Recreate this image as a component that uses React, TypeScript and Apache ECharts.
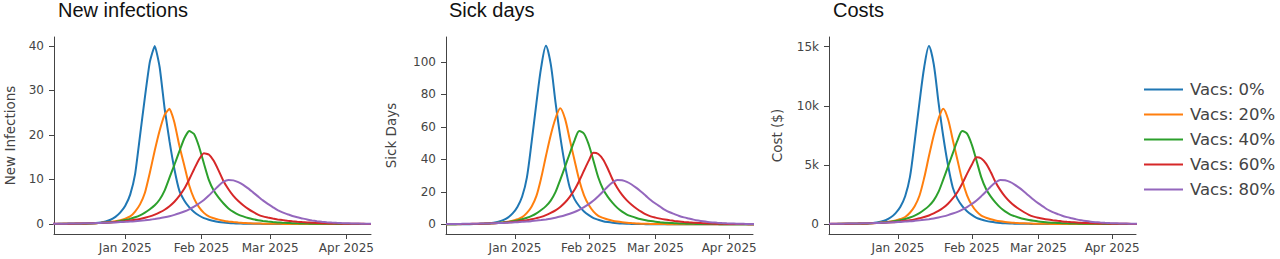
import { useEffect, useRef } from 'react';
import * as echarts from 'echarts';

// ---------------- data ----------------
const SERIES_NAMES = ['Vacs: 0%', 'Vacs: 20%', 'Vacs: 40%', 'Vacs: 60%', 'Vacs: 80%'];
const PANEL_TITLES = ['New infections', 'Sick days', 'Costs'];
const Y_AXIS_TITLES = ['New Infections', 'Sick Days', 'Cost ($)'];
const X_TICK_DATES = ['2025-01-01', '2025-02-01', '2025-03-01', '2025-04-01'];
const X_RANGE = ['2024-12-03', '2025-04-11'];
const Y_TICKS_INFECTIONS = [0, 10, 20, 30, 40];
const Y_TICKS_SICK = [0, 20, 40, 60, 80, 100];
const Y_TICKS_COST = [0, 5000, 10000, 15000];

// samples every 2 days
const INFECTIONS_START = '2024-12-02';
const SICK_COST_START = '2024-12-03';
const STEP_DAYS = 2;

const infections0 = [0.01, 0.01, 0.02, 0.02, 0.03, 0.03, 0.05, 0.08, 0.13, 0.21, 0.35, 0.58, 0.95, 1.6, 2.6, 4.1, 6.6, 11.2, 19.8, 28.5, 36.4, 40.0, 35.2, 26.0, 18.6, 12.3, 7.5, 5.3, 3.8, 2.7, 1.9, 1.3, 0.95, 0.66, 0.46, 0.32, 0.22, 0.15, 0.1, 0.07, 0.05, 0.04, 0.03, 0.02, 0.02, 0.01, 0.01, 0.01, 0.01, 0.01, 0.01, 0, 0, 0, 0, 0, 0, 0, 0, 0, 0, 0, 0, 0, 0, 0];
const infections20 = [0.01, 0.01, 0.02, 0.03, 0.04, 0.05, 0.07, 0.09, 0.13, 0.18, 0.25, 0.33, 0.45, 0.6, 0.85, 1.2, 1.7, 2.8, 4.4, 7.0, 11.5, 16.5, 21.0, 24.5, 25.9, 22.8, 17.6, 13.2, 8.7, 5.7, 3.8, 2.5, 1.7, 1.3, 0.98, 0.74, 0.56, 0.42, 0.32, 0.24, 0.18, 0.13, 0.1, 0.08, 0.06, 0.04, 0.03, 0.02, 0.02, 0.01, 0.01, 0, 0, 0, 0, 0, 0, 0, 0, 0, 0, 0, 0, 0, 0, 0];
const infections40 = [0.02, 0.02, 0.03, 0.04, 0.05, 0.06, 0.08, 0.1, 0.14, 0.18, 0.24, 0.31, 0.4, 0.53, 0.68, 0.9, 1.15, 1.5, 1.95, 2.55, 3.3, 4.2, 5.5, 7.5, 10.4, 13.3, 16.3, 19.2, 20.9, 20.2, 17.4, 13.6, 9.9, 7.5, 5.9, 4.6, 3.5, 2.7, 2.1, 1.7, 1.35, 1.08, 0.86, 0.69, 0.55, 0.44, 0.35, 0.28, 0.22, 0.18, 0.14, 0.11, 0.09, 0.07, 0.06, 0.05, 0.04, 0.03, 0.02, 0.02, 0.01, 0.01, 0.01, 0.01, 0.01, 0];
const infections60 = [0.03, 0.04, 0.05, 0.06, 0.07, 0.085, 0.1, 0.13, 0.15, 0.19, 0.23, 0.28, 0.35, 0.43, 0.52, 0.64, 0.78, 0.93, 1.13, 1.4, 1.7, 2.1, 2.6, 3.2, 4.0, 5.0, 6.3, 7.9, 10.0, 12.3, 14.5, 15.9, 15.6, 14.2, 12.0, 9.6, 7.8, 6.3, 5.15, 4.2, 3.4, 2.7, 2.1, 1.7, 1.44, 1.22, 1.03, 0.87, 0.73, 0.6, 0.5, 0.42, 0.35, 0.28, 0.23, 0.19, 0.15, 0.12, 0.1, 0.08, 0.06, 0.05, 0.04, 0.03, 0.02, 0.02];
const infections80 = [0.05, 0.06, 0.07, 0.08, 0.1, 0.11, 0.13, 0.15, 0.17, 0.2, 0.23, 0.27, 0.31, 0.36, 0.42, 0.48, 0.55, 0.62, 0.72, 0.83, 0.96, 1.11, 1.28, 1.5, 1.75, 2.05, 2.4, 2.8, 3.3, 3.9, 4.6, 5.4, 6.4, 7.5, 8.6, 9.5, 9.9, 9.8, 9.4, 8.8, 8.0, 7.1, 6.2, 5.3, 4.5, 3.8, 3.1, 2.6, 2.2, 1.8, 1.5, 1.25, 1.0, 0.8, 0.63, 0.5, 0.4, 0.32, 0.25, 0.2, 0.16, 0.12, 0.1, 0.08, 0.06, 0.05];

const sick0 = [0.03, 0.03, 0.05, 0.06, 0.08, 0.08, 0.13, 0.21, 0.34, 0.54, 0.9, 1.5, 2.5, 4.1, 6.7, 10.7, 17.1, 28.9, 50.9, 74.8, 96.8, 110.0, 98.8, 75.3, 54.2, 36.4, 22.6, 15.5, 11.1, 7.9, 5.6, 3.8, 2.8, 1.9, 1.35, 0.94, 0.65, 0.44, 0.3, 0.2, 0.15, 0.11, 0.08, 0.06, 0.05, 0.03, 0.03, 0.02, 0.02, 0.02, 0.02, 0.01, 0.01, 0.01, 0.01, 0.01, 0.01, 0.01, 0.01, 0.01, 0.01, 0.01, 0.01, 0.01, 0.01, 0.01];
const sick20 = [0.03, 0.03, 0.05, 0.08, 0.1, 0.13, 0.18, 0.23, 0.33, 0.46, 0.64, 0.86, 1.16, 1.55, 2.17, 3.07, 4.35, 6.97, 11.0, 17.5, 28.6, 42.1, 54.9, 65.2, 71.5, 65.1, 52.2, 39.5, 27.1, 17.8, 11.8, 7.8, 5.2, 3.9, 2.9, 2.2, 1.67, 1.26, 0.95, 0.72, 0.54, 0.39, 0.3, 0.23, 0.18, 0.12, 0.09, 0.06, 0.055, 0.035, 0.03, 0.03, 0.02, 0.02, 0.02, 0.01, 0.01, 0.01, 0.01, 0.01, 0.01, 0.01, 0.01, 0.01, 0.01, 0.01];
const sick40 = [0.055, 0.055, 0.08, 0.11, 0.13, 0.16, 0.21, 0.27, 0.37, 0.48, 0.64, 0.82, 1.06, 1.4, 1.81, 2.38, 3.06, 3.98, 5.18, 6.77, 8.77, 11.2, 14.6, 19.8, 27.4, 35.4, 43.6, 51.6, 57.5, 55.8, 49.0, 39.0, 28.8, 21.6, 16.9, 13.2, 10.1, 7.76, 6.0, 4.84, 3.86, 3.08, 2.46, 1.97, 1.57, 1.26, 1.0, 0.8, 0.63, 0.51, 0.4, 0.31, 0.26, 0.2, 0.17, 0.14, 0.11, 0.09, 0.06, 0.055, 0.03, 0.03, 0.03, 0.03, 0.03, 0.01];
const sick60 = [0.08, 0.11, 0.13, 0.16, 0.19, 0.23, 0.27, 0.35, 0.41, 0.51, 0.62, 0.75, 0.94, 1.16, 1.4, 1.72, 2.1, 2.51, 3.05, 3.77, 4.58, 5.65, 7.0, 8.6, 10.7, 13.4, 16.9, 21.2, 26.8, 33.1, 39.2, 44.1, 43.3, 39.9, 34.2, 27.6, 22.4, 18.1, 14.7, 12.0, 9.75, 7.77, 6.07, 4.88, 4.1, 3.47, 2.93, 2.48, 2.08, 1.72, 1.43, 1.2, 1.0, 0.8, 0.66, 0.54, 0.43, 0.34, 0.29, 0.23, 0.17, 0.14, 0.11, 0.09, 0.06, 0.055];
const sick80 = [0.14, 0.16, 0.19, 0.22, 0.27, 0.3, 0.35, 0.41, 0.46, 0.54, 0.62, 0.73, 0.84, 0.97, 1.13, 1.3, 1.49, 1.68, 1.95, 2.25, 2.6, 3.0, 3.46, 4.05, 4.73, 5.53, 6.48, 7.56, 8.9, 10.5, 12.4, 14.6, 17.3, 20.2, 23.3, 25.8, 27.3, 27.1, 26.1, 24.5, 22.4, 20.0, 17.5, 15.0, 12.8, 10.8, 8.85, 7.38, 6.24, 5.13, 4.26, 3.55, 2.86, 2.29, 1.81, 1.43, 1.15, 0.92, 0.72, 0.57, 0.46, 0.35, 0.28, 0.23, 0.17, 0.14];

const cost0 = [4, 4, 7, 8, 11, 11, 18, 29, 47, 74, 123, 206, 337, 566, 923, 1460, 2343, 3959, 6973, 10248, 13262, 15060, 13536, 10316, 7425, 4987, 3096, 2124, 1521, 1082, 767, 521, 378, 264, 185, 129, 89, 60, 41, 27, 21, 15, 11, 8, 7, 4, 4, 3, 3, 3, 3, 1, 1, 1, 1, 1, 1, 1, 1, 1, 1, 1, 1, 1, 1, 1];
const cost20 = [4, 4, 7, 11, 14, 18, 25, 31, 45, 63, 87, 117, 158, 212, 296, 419, 594, 951, 1502, 2389, 3904, 5747, 7494, 8900, 9760, 8886, 7125, 5392, 3699, 2430, 1611, 1065, 710, 532, 396, 300, 228, 172, 130, 98, 74, 53, 41, 31, 25, 16, 12, 8, 8, 5, 4, 4, 3, 3, 2, 2, 1, 1, 1, 1, 1, 1, 1, 1, 1, 1];
const cost40 = [8, 8, 11, 15, 18, 22, 29, 37, 51, 66, 88, 112, 145, 192, 248, 326, 419, 545, 710, 927, 1201, 1534, 2000, 2713, 3754, 4850, 5973, 7069, 7870, 7645, 6713, 5343, 3946, 2959, 2315, 1808, 1384, 1063, 822, 663, 529, 422, 337, 270, 215, 173, 137, 110, 86, 70, 55, 42, 36, 27, 23, 19, 15, 12, 8, 8, 4, 4, 4, 4, 4, 1];
const cost60 = [10, 14, 17, 20, 24, 29, 35, 45, 52, 65, 79, 96, 120, 148, 179, 220, 269, 321, 390, 483, 586, 723, 896, 1101, 1370, 1715, 2163, 2714, 3430, 4237, 5018, 5645, 5542, 5107, 4378, 3533, 2867, 2317, 1882, 1536, 1248, 995, 777, 625, 525, 444, 375, 317, 266, 220, 183, 154, 128, 102, 84, 69, 55, 44, 37, 29, 22, 18, 14, 12, 8, 7];
const cost80 = [19, 22, 26, 30, 37, 41, 48, 56, 63, 74, 85, 100, 114, 132, 154, 177, 203, 229, 266, 307, 354, 409, 472, 552, 645, 754, 883, 1030, 1213, 1431, 1690, 1990, 2358, 2753, 3176, 3517, 3721, 3694, 3557, 3339, 3053, 2726, 2385, 2045, 1745, 1472, 1206, 1006, 850, 699, 581, 484, 390, 312, 247, 195, 157, 125, 98, 78, 63, 48, 38, 31, 23, 19];

// ---------------- styling / layout ----------------
const COLORS = ['#1f77b4', '#ff7f0e', '#2ca02c', '#d62728', '#9467bd'];
const MONTHS = ['Jan', 'Feb', 'Mar', 'Apr', 'May', 'Jun', 'Jul', 'Aug', 'Sep', 'Oct', 'Nov', 'Dec'];
const GRIDS = [
  { left: 54, top: 37, width: 317, height: 197 },
  { left: 446, top: 37, width: 307, height: 197 },
  { left: 829, top: 37, width: 307, height: 197 },
];
const TITLE_LEFT = [58, 449, 833];
const NAME_GAP = [37, 48, 45];
const Y_RANGES = [
  [-2.25, 42.0],
  [-6.0, 115.4],
  [-846, 15820],
];
const AXIS_COLOR = '#444';
const FONT = "'DejaVu Sans', Verdana, sans-serif";

const DAY = 86400000;
const ts = (s: string) => {
  const [y, m, d] = s.split('-').map(Number);
  return Date.UTC(y, m - 1, d);
};

export default function App() {
  const ref = useRef<HTMLDivElement>(null);

  useEffect(() => {
    document.body.style.margin = '0';
    if (!ref.current) return;
    const chart = echarts.init(ref.current, undefined, { renderer: 'svg' });

    const panels = [
      { start: INFECTIONS_START, data: [infections0, infections20, infections40, infections60, infections80], ticks: Y_TICKS_INFECTIONS, smooth: 0.15 },
      { start: SICK_COST_START, data: [sick0, sick20, sick40, sick60, sick80], ticks: Y_TICKS_SICK, smooth: 0.3 },
      { start: SICK_COST_START, data: [cost0, cost20, cost40, cost60, cost80], ticks: Y_TICKS_COST, smooth: 0.3 },
    ];
    const xTicks = X_TICK_DATES.map(ts);

    const series: any[] = [];
    panels.forEach((p, pi) => {
      const t0 = ts(p.start);
      p.data.forEach((arr, si) => {
        series.push({
          type: 'line',
          name: SERIES_NAMES[si],
          xAxisIndex: pi,
          yAxisIndex: pi,
          data: arr.map((v, i) => [t0 + i * STEP_DAYS * DAY, v]),
          symbol: 'none',
          showSymbol: false,
          smooth: p.smooth,
          lineStyle: { width: 2, color: COLORS[si] },
          itemStyle: { color: COLORS[si] },
          emphasis: { disabled: true },
          clip: true,
        });
      });
    });

    const option: any = {
      animation: false,
      textStyle: { fontFamily: FONT },
      title: PANEL_TITLES.map((t, i) => ({
        text: t,
        left: TITLE_LEFT[i],
        top: 0,
        padding: 0,
        textStyle: { fontFamily: "'Liberation Sans', Arial, sans-serif", fontSize: 20, fontWeight: 'normal', color: '#111' },
      })),
      legend: {
        orient: 'vertical',
        left: 1144,
        top: 81,
        padding: 0,
        icon: 'rect',
        itemWidth: 39,
        itemHeight: 2,
        itemGap: 8,
        data: SERIES_NAMES,
        textStyle: { fontFamily: FONT, fontSize: 16.5, color: '#444', lineHeight: 17, padding: [0, 0, 0, 2] },
      },
      grid: GRIDS.map((g) => ({ ...g, containLabel: false })),
      xAxis: GRIDS.map((_, i) => ({
        type: 'value',
        gridIndex: i,
        min: ts(X_RANGE[0]),
        max: ts(X_RANGE[1]),
        axisLine: { show: true, onZero: false, lineStyle: { color: AXIS_COLOR, width: 1 } },
        axisTick: { show: true, length: 5, customValues: xTicks, lineStyle: { color: AXIS_COLOR } },
        axisLabel: {
          customValues: xTicks,
          color: AXIS_COLOR,
          fontSize: 12,
          fontFamily: FONT,
          margin: 8,
          formatter: (v: number) => {
            const d = new Date(v);
            return `${MONTHS[d.getUTCMonth()]} ${d.getUTCFullYear()}`;
          },
        },
        splitLine: { show: false },
      })),
      yAxis: GRIDS.map((_, i) => ({
        type: 'value',
        gridIndex: i,
        min: Y_RANGES[i][0],
        max: Y_RANGES[i][1],
        name: Y_AXIS_TITLES[i],
        nameLocation: 'middle',
        nameGap: NAME_GAP[i],
        nameTextStyle: { fontFamily: FONT, fontSize: 13.5, color: AXIS_COLOR },
        axisLine: { show: true, onZero: false, lineStyle: { color: AXIS_COLOR, width: 1 } },
        axisTick: { show: true, length: 5, customValues: panels[i].ticks, lineStyle: { color: AXIS_COLOR } },
        axisLabel: {
          customValues: panels[i].ticks,
          color: AXIS_COLOR,
          fontSize: 12,
          fontFamily: FONT,
          margin: 10,
          formatter: (v: number) => (i === 2 && v !== 0 ? `${v / 1000}k` : `${v}`),
        },
        splitLine: { show: false },
      })),
      series,
    };

    chart.setOption(option);
    return () => chart.dispose();
  }, []);

  return <div ref={ref} style={{ width: 1280, height: 259 }} />;
}
